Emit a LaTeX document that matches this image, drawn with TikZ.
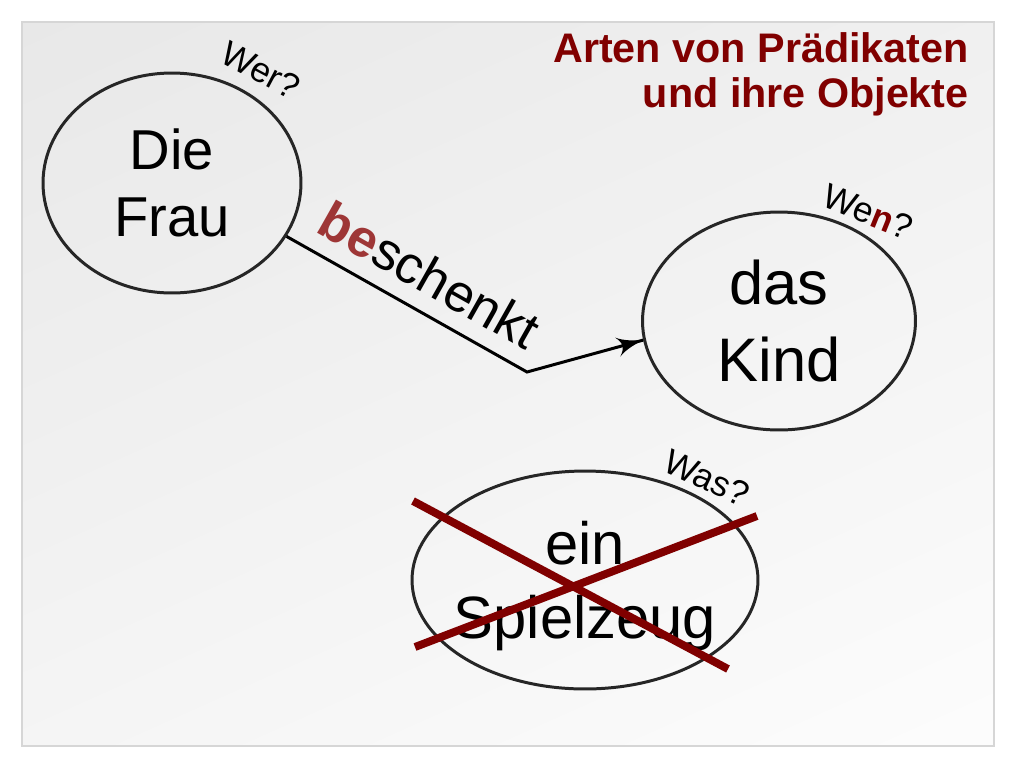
\documentclass[tikz,border=0pt]{standalone}
\usepackage{fontspec}
\setmainfont{Liberation Sans}
\usetikzlibrary{arrows}
\usetikzlibrary{decorations.markings}
\usetikzlibrary{shapes.geometric}
\usetikzlibrary{shadings}
\definecolor{mred}{rgb}{0.5, 0.0, 0.0}
\definecolor{mrust}{rgb}{0.62, 0.21, 0.21}
\definecolor{mframe}{rgb}{0.84, 0.84, 0.84}
\tikzset{pfeil/.style = {decoration={markings,
                                     mark=at position 1 with {\arrow[scale=1.9]{latex'}}},
                         postaction={decorate}},
         blob/.style = {ellipse, draw=black!85, line width=1.7pt, inner sep=0pt, align=center},
         question/.style = {inner sep=0pt, font=\fontsize{20}{20}\selectfont},
         strike/.style = {mred, line width=4.5pt}}

\begin{document}
\begin{tikzpicture}[x=0.02cm, y=-0.02cm]
      \useasboundingbox (0, 0) rectangle (1024, 768);
      \shade [upper left=black!9, upper right=black!6, lower left=black!4, lower right=black!1] (22, 22) rectangle (994, 746);
      \draw [mframe, line width=1.2pt] (22, 22) rectangle (994, 746);

      \node [anchor=north east, align=right, inner sep=0pt, text=mred,
             font=\bfseries\fontsize{23.5}{25.5}\selectfont] (title) at (969, 32) {Arten von Prädikaten\\und ihre Objekte};

      \node [blob, minimum width=5.16cm, minimum height=4.4cm, font=\fontsize{32}{38.5}\selectfont] (frau) at (172, 183) {Die\\Frau};
      \node [blob, minimum width=5.46cm, minimum height=4.36cm, font=\fontsize{35}{44}\selectfont] (kind) at (779, 321) {das\\Kind};
      \node [blob, minimum width=6.92cm, minimum height=4.36cm, inner xsep=-7pt, text depth=0pt, font=\fontsize{34}{42}\selectfont] (spielzeug) at (585, 580) {ein\\Spielzeug};

      \node [question, rotate=-28] (wer) at (261, 70) {Wer?};
      \node [question, rotate=-22] (wen) at (868, 212) {We\textcolor{mred}{\textbf{n}}?};
      \node [question, rotate=-25] (was) at (707, 478) {Was?};

      \coordinate (knick) at (527, 372);
      \draw [pfeil, line width=1.7pt] (frau.-25) -- node [sloped, above=9pt, pos=0.52, inner sep=0pt, font=\fontsize{30}{36}\selectfont] (verb) {\textcolor{mrust}{\textbf{be}}schenkt} (knick) -- (kind.188);

      \draw [strike] (413, 501) -- (728, 669);
      \draw [strike] (415, 647) -- (757, 516);
    \end{tikzpicture}
\end{document}
